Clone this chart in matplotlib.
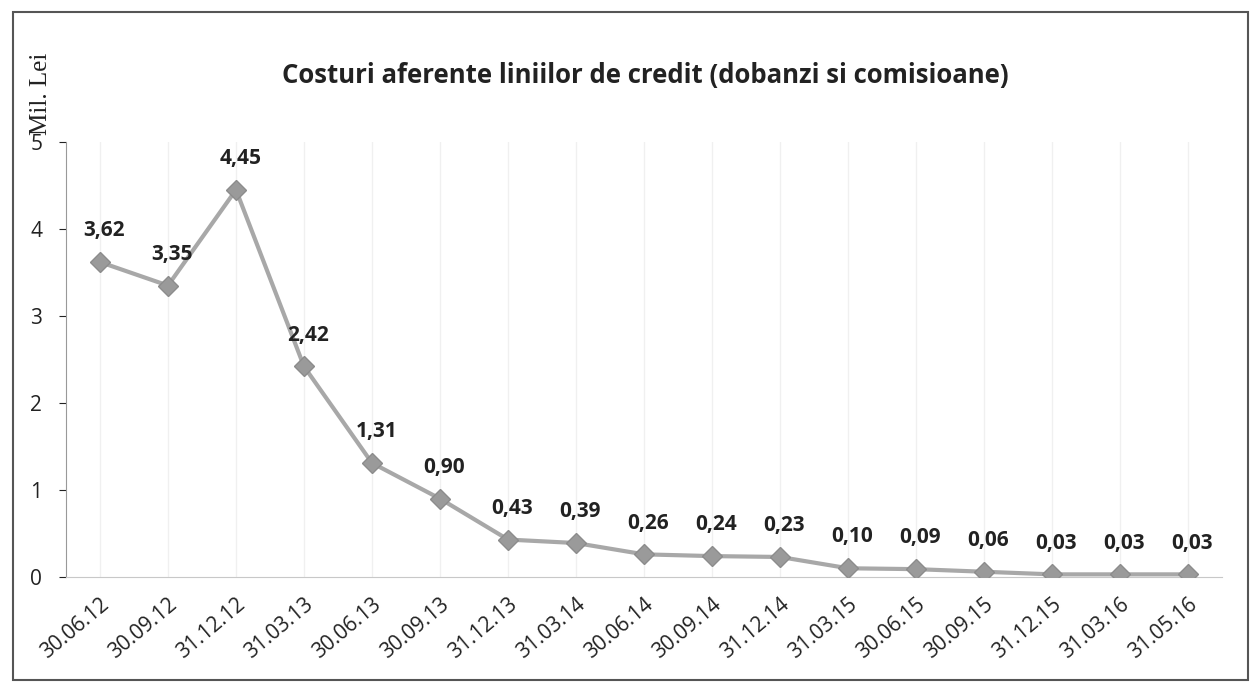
import numpy as np
import matplotlib.pyplot as plt
from matplotlib.patches import Rectangle

# date
dates = ["30.06.12", "30.09.12", "31.12.12", "31.03.13", "30.06.13", "30.09.13",
         "31.12.13", "31.03.14", "30.06.14", "30.09.14", "31.12.14", "31.03.15",
         "30.06.15", "30.09.15", "31.12.15", "31.03.16", "31.05.16"]
costuri = [3.62, 3.35, 4.45, 2.42, 1.31, 0.90, 0.43, 0.39, 0.26, 0.24, 0.23,
           0.10, 0.09, 0.06, 0.03, 0.03, 0.03]

plt.rcParams['font.family'] = ['Open Sans', 'DejaVu Sans']

fig = plt.figure(figsize=(12.54, 6.85), dpi=100)
ax = fig.add_axes([0.0526, 0.1577, 0.922, 0.635])

x = np.arange(len(dates))
ax.plot(x, costuri, color="#a8a8a8", linewidth=3, marker="D", markersize=10,
        markerfacecolor="#9a9a9a", markeredgecolor="#8c8c8c", zorder=3)

for xi, v in zip(x, costuri):
    ax.annotate(f"{v:.2f}".replace(".", ","), (xi, v), xytext=(3, 15),
                textcoords="offset points", ha="center", va="bottom",
                fontsize=15, fontweight="bold", color="#222222")

ax.set_xlim(-0.5, len(dates) - 0.5)
ax.set_ylim(0, 5)
ax.set_yticks([0, 1, 2, 3, 4, 5])
ax.set_xticks(x)
ax.set_xticklabels(dates, rotation=40, ha="right", rotation_mode="anchor",
                   fontsize=15, color="#222222")
ax.tick_params(axis="y", labelsize=15, colors="#222222", length=5, pad=12)
ax.tick_params(axis="x", length=0, pad=12)

ax.grid(axis="x", color="#f0f0f0", linewidth=1)
ax.set_axisbelow(True)
for s in ["top", "right"]:
    ax.spines[s].set_visible(False)
ax.spines["left"].set_color("#999999")
ax.spines["bottom"].set_color("#c8c8c8")

ax.set_ylabel("Mil. Lei", family="Liberation Serif", fontsize=18, color="#222222",
              ha="left")
ax.yaxis.set_label_coords(-0.012, 1.015)

fig.text(0.515, 0.89, "Costuri aferente liniilor de credit (dobanzi si comisioane)",
         ha="center", va="center", fontsize=18.5, fontweight="bold", color="#222222")

# chenar
fig.patches.append(Rectangle((0.01, 0.008), 0.985, 0.975, transform=fig.transFigure,
                             fill=False, edgecolor="#555555", linewidth=1.5))

fig.savefig("out.png", dpi=100)
